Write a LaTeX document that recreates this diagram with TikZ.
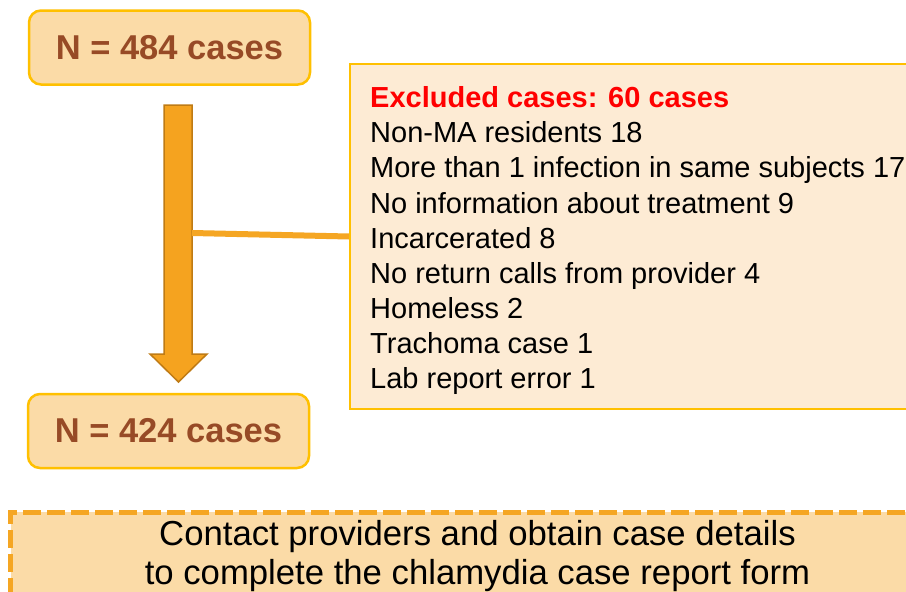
\documentclass[tikz,border=0pt]{standalone}
\usepackage{fontspec}
\setmainfont{Liberation Sans}
\definecolor{nfill}{HTML}{FBDBA7}
\definecolor{nline}{HTML}{FFC000}
\definecolor{ntext}{HTML}{974A26}
\definecolor{efill}{HTML}{FDEBD4}
\definecolor{afill}{HTML}{F5A31F}
\definecolor{aline}{HTML}{BF7B15}
\definecolor{cline}{HTML}{F5A623}
\definecolor{dfill}{HTML}{FBDBA7}
\begin{document}
\begin{tikzpicture}[x=1pt,y=-1pt,
  nbox/.style={draw=nline, fill=nfill, line width=2.5pt, rounded corners=12pt,
    minimum width=281pt, minimum height=74pt, inner sep=0pt,
    text=ntext, font=\fontsize{34.5}{40}\selectfont\bfseries},
  exclbox/.style={draw=nline, fill=efill, line width=2pt, inner sep=0pt,
    anchor=north west, minimum width=620pt, minimum height=345pt},
  bigarrow/.style={draw=aline, fill=afill, line width=1.5pt, line join=miter},
  conn/.style={draw=cline, line width=6pt},
  formbox/.style={draw=cline, fill=dfill, line width=5pt, dash pattern=on 18pt off 6pt,
    inner sep=0pt, anchor=north west, minimum width=960pt, minimum height=150pt},
  plaintext/.style={inner sep=0pt, text=black}
]
\clip (0,0) rectangle (906,592);
\fill[white] (0,0) rectangle (906,592);

% top and bottom count boxes
\node[nbox] (top) at (169.5,47.5) {N = 484 cases};
\node[nbox] (bottom) at (168.5,431) {N = 424 cases};

% big block arrow
\coordinate (atl) at (164,105);
\coordinate (atr) at (192,105);
\coordinate (asr) at (192,354);
\coordinate (awr) at (207,354);
\coordinate (atip) at (178.5,382);
\coordinate (awl) at (150,354);
\coordinate (asl) at (164,354);
\path[bigarrow] (atl) -- (atr) -- (asr) -- (awr) -- (atip) -- (awl) -- (asl) -- cycle;

% excluded cases box
\node[exclbox] (excl) at (349,63) {};
\node[plaintext, anchor=north west, align=left, font=\fontsize{29}{35.1}\selectfont] (excltext) at (370,86.5)
  {\textcolor{red}{\bfseries Excluded cases: 60 cases}\\
   Non-MA residents 18\\
   More than 1 infection in same subjects 17\\
   No information about treatment 9\\
   Incarcerated 8\\
   No return calls from provider 4\\
   Homeless 2\\
   Trachoma case 1\\
   Lab report error 1};

% connector from arrow to excluded box
\coordinate (j) at (192,233);
\draw[conn] (j) -- (excl.west);

% dashed form box
\node[formbox] (form) at (8,509.5) {};
\node[plaintext, anchor=north, align=center, font=\fontsize{34.7}{39}\selectfont] (formtext) at (477.5,520)
  {Contact providers and obtain case details\\to complete the chlamydia case report form};
\end{tikzpicture}
\end{document}
